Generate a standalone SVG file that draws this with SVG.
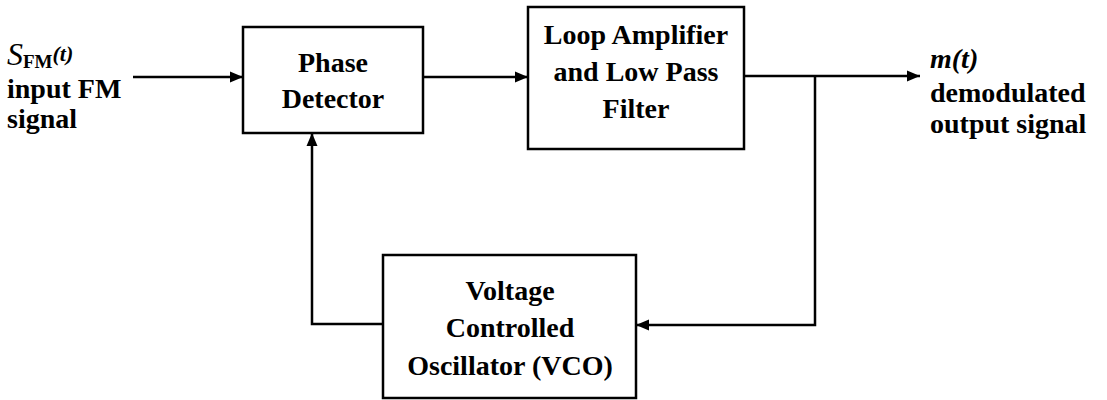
<svg xmlns="http://www.w3.org/2000/svg" width="1107" height="400" viewBox="0 0 1107 400">
<style>
.box{fill:#fff;stroke:#000;stroke-width:2.5}
.ln{fill:none;stroke:#000;stroke-width:2.5}
.t{font-family:"Liberation Serif","Times New Roman",serif;font-weight:bold;font-size:28px;fill:#000}
.c{text-anchor:middle}
.i{font-style:italic}
</style>
<defs>
<marker id="ah" markerUnits="userSpaceOnUse" markerWidth="14" markerHeight="12" refX="13" refY="6" orient="auto">
<path d="M0,0.5 L13,6 L0,11.5 z" fill="#000"/>
</marker>
</defs>
<rect width="1107" height="400" fill="#fff"/>
<g id="connectors">
<line class="ln" x1="133" y1="77" x2="243" y2="77" marker-end="url(#ah)"/>
<line class="ln" x1="423" y1="77" x2="528" y2="77" marker-end="url(#ah)"/>
<line class="ln" x1="744" y1="76" x2="920" y2="76" marker-end="url(#ah)"/>
<polyline class="ln" points="815,76 815,325 636,325" marker-end="url(#ah)"/>
<polyline class="ln" points="383,324 312,324 312,133" marker-end="url(#ah)"/>
</g>
<g id="phase-detector">
<rect class="box" x="243" y="27" width="180" height="106"/>
<text class="t c" x="333" y="72">Phase</text>
<text class="t c" x="333" y="108">Detector</text>
</g>
<g id="loop-amplifier">
<rect class="box" x="528" y="7" width="216" height="142"/>
<text class="t c" x="636" y="44">Loop Amplifier</text>
<text class="t c" x="636" y="81">and Low Pass</text>
<text class="t c" x="636" y="118">Filter</text>
</g>
<g id="vco">
<rect class="box" x="383" y="255" width="253" height="143"/>
<text class="t c" x="510" y="300">Voltage</text>
<text class="t c" x="510" y="337">Controlled</text>
<text class="t c" x="510" y="375">Oscillator (VCO)</text>
</g>
<g id="input-label">
<text class="t" x="7" y="65"><tspan class="i" font-weight="normal" font-size="32">S</tspan><tspan font-size="19" dy="3">FM</tspan><tspan class="i" font-size="22" dy="-7">(t)</tspan></text>
<text class="t" x="7" y="98">input FM</text>
<text class="t" x="7" y="128">signal</text>
</g>
<g id="output-label">
<text class="t i" x="930" y="68">m(t)</text>
<text class="t" x="930" y="102">demodulated</text>
<text class="t" x="930" y="133">output signal</text>
</g>
</svg>
